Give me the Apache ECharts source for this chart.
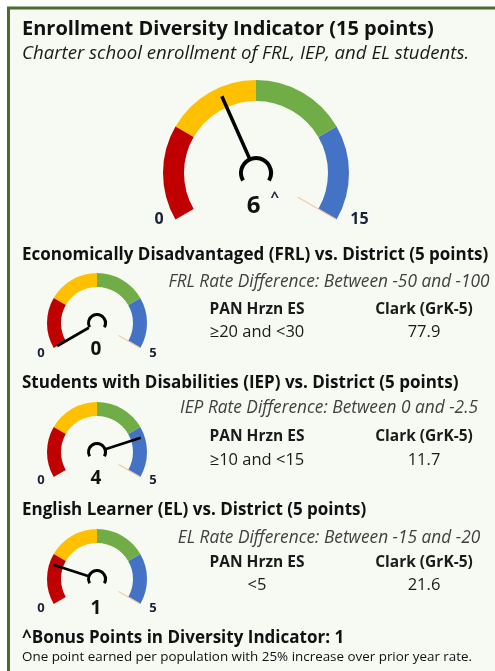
<!DOCTYPE html>
<html>
<head>
<meta charset="utf-8">
<script src="https://cdn.jsdelivr.net/npm/echarts@6/dist/echarts.min.js"></script>
<style>
html,body{margin:0;padding:0;background:#ffffff;}
#chart{width:495px;height:671px;}
</style>
</head>
<body>
<div id="chart"></div>
<script>
// ---- data ----
const mainTitle = 'Enrollment Diversity Indicator (15 points)';
const mainSubtitle = 'Charter school enrollment of FRL, IEP, and EL students.';
const gaugeMax = [15, 5, 5, 5];
const gaugeValues = [6, 0, 4, 1];
const bonusMark = '^';
const bandStops = [0.25, 0.5, 0.75, 1];
const bandColors = ['#c00000', '#ffc000', '#70ad47', '#4472c4'];
const sectionTitles = [
  'Economically Disadvantaged (FRL) vs. District (5 points)',
  'Students with Disabilities (IEP) vs. District (5 points)',
  'English Learner (EL) vs. District (5 points)'
];
const rateDiffTexts = [
  'FRL Rate Difference: Between -50 and -100',
  'IEP Rate Difference: Between 0 and -2.5',
  'EL Rate Difference: Between -15 and -20'
];
const schoolNames = ['PAN Hrzn ES', 'Clark (GrK-5)'];
const schoolValues = [
  ['\u226520 and <30', '77.9'],
  ['\u226510 and <15', '11.7'],
  ['<5', '21.6']
];
const bonusText = '^Bonus Points in Diversity Indicator: 1';
const footnote = 'One point earned per population with 25% increase over prior year rate.';

// ---- layout (style only) ----
const FONT = '"Open Sans", Lato, sans-serif';
const gaugeLayout = [
  { cx: 256, cy: 173, r: 93, band: 21, needleLen: 84, needleW: 3.5, hubR: 17, hubW: 4, labelSize: 16, labelDist: -57, padMin: 11, padUp: 37, detailSize: 24, detailOff: 33, peachIn: 48 },
  { cx: 97, cy: 323, r: 50, band: 14, needleLen: 46, needleW: 2.6, hubR: 10, hubW: 3, labelSize: 13, labelDist: -39, padMin: 0, padUp: 8, detailSize: 19, detailOff: 27, peachIn: 25 },
  { cx: 97, cy: 452, r: 50, band: 14, needleLen: 46, needleW: 2.6, hubR: 10, hubW: 3, labelSize: 13, labelDist: -39, padMin: 0, padUp: 12, detailSize: 19, detailOff: 27, peachIn: 25 },
  { cx: 97, cy: 579, r: 50, band: 14, needleLen: 46, needleW: 2.6, hubR: 10, hubW: 3, labelSize: 13, labelDist: -39, padMin: 0, padUp: 10, detailSize: 19, detailOff: 30, peachIn: 25 }
];

function gapPath(len, gapFromCenter) {
  const vis = len - gapFromCenter;
  return 'path://M0,0L10,0L10,' + vis + 'L0,' + vis + 'ZM0,' + len + 'L10,' + len;
}

const series = [];
gaugeValues.forEach(function (val, i) {
  const L = gaugeLayout[i];
  const isMain = i === 0;
  const common = {
    type: 'gauge',
    center: [L.cx, L.cy],
    startAngle: 210,
    endAngle: -30,
    min: 0,
    max: gaugeMax[i],
    splitNumber: 1,
    axisTick: { show: false },
    splitLine: { show: false },
    anchor: { show: false },
    title: { show: false },
    animation: false
  };
  const labelBase = { fontSize: L.labelSize, fontWeight: 'bold', fontFamily: FONT, color: '#1b2036' };
  // colored band with tick labels
  series.push(Object.assign({}, common, {
    radius: L.r,
    z: 2,
    axisLine: { lineStyle: { width: L.band, color: bandStops.map(function (s, k) { return [s, bandColors[k]]; }) } },
    axisLabel: {
      show: true,
      distance: L.labelDist,
      formatter: function (v) { return (v === 0 ? '{lo|' : '{hi|') + v + '}'; },
      rich: {
        lo: Object.assign({ padding: [0, 0, L.padUp, L.padMin] }, labelBase),
        hi: Object.assign({ padding: [0, 0, L.padUp, 0] }, labelBase)
      }
    },
    pointer: { show: false },
    detail: { show: false },
    data: [{ value: val }]
  }));
  // pale marker line at max end
  series.push(Object.assign({}, common, {
    radius: L.r,
    z: 3,
    axisLine: { show: false },
    axisLabel: { show: false },
    pointer: { show: true, icon: gapPath(L.r, L.peachIn), length: L.r, width: 1.3 },
    itemStyle: { color: '#f5c9a8' },
    detail: { show: false },
    data: [{ value: gaugeMax[i] }]
  }));
  // hub
  series.push(Object.assign({}, common, {
    radius: L.hubR,
    z: 4,
    axisLine: { lineStyle: { width: L.hubW, color: [[1, '#000000']] } },
    axisLabel: { show: false },
    pointer: { show: false },
    detail: { show: false },
    data: [{ value: val }]
  }));
  // needle + value
  series.push(Object.assign({}, common, {
    radius: L.r,
    z: 5,
    axisLine: { show: false },
    axisLabel: { show: false },
    pointer: { show: true, icon: gapPath(L.needleLen, L.hubR - 0.5), length: L.needleLen, width: L.needleW },
    itemStyle: { color: '#000000' },
    detail: {
      show: true,
      offsetCenter: isMain ? [7, L.detailOff] : [-1, L.detailOff],
      formatter: isMain ? function (v) { return '{v|' + v + '}{s|}{c|' + bonusMark + '}'; } : function (v) { return '{v|' + v + '}'; },
      rich: {
        v: { fontSize: L.detailSize, fontWeight: 'bold', fontFamily: FONT, color: '#111111' },
        s: { width: 10 },
        c: { fontSize: 15, fontWeight: 'bold', fontFamily: FONT, color: '#1b2036', padding: [0, 0, 16, 0] }
      }
    },
    data: [{ value: val }]
  }));
});

// ---- texts ----
const gfx = [];
gfx.push({ type: 'rect', shape: { x: 8.5, y: 8, width: 500, height: 680 }, style: { fill: '#f6faf3', stroke: '#4d6b2e', lineWidth: 3 }, z: -10 });
function txt(s, x, y, font, color, align) {
  gfx.push({ type: 'text', x: x, y: y, style: { text: s, font: font, fill: color, textAlign: align || 'left', textVerticalAlign: 'middle' }, z: 10 });
}
txt(mainTitle, 22, 29, 'bold 20px ' + FONT, '#111111');
txt(mainSubtitle, 22, 54, 'italic 18.6px ' + FONT, '#1a1a1a');
const secY = [255, 383, 510];
const rateY = [282, 408, 538];
const nameY = [310, 437, 563];
const valY = [332, 460, 585];
sectionTitles.forEach(function (t, k) {
  txt(t, 22, secY[k], 'bold 17px ' + FONT, '#111111');
  txt(rateDiffTexts[k], 329, rateY[k], 'italic 17.3px ' + FONT, '#404040', 'center');
  txt(schoolNames[0], 257, nameY[k], 'bold 15.5px ' + FONT, '#1a1a1a', 'center');
  txt(schoolNames[1], 424, nameY[k], 'bold 15.5px ' + FONT, '#1a1a1a', 'center');
  txt(schoolValues[k][0], 257, valY[k], '16.5px ' + FONT, '#1a1a1a', 'center');
  txt(schoolValues[k][1], 424, valY[k], '16.5px ' + FONT, '#1a1a1a', 'center');
});
txt(bonusText, 22, 638, 'bold 17px ' + FONT, '#111111');
txt(footnote, 22, 657, '13.4px ' + FONT, '#111111');

const chart = echarts.init(document.getElementById('chart'), null, { renderer: 'canvas' });
chart.setOption({
  backgroundColor: '#ffffff',
  animation: false,
  graphic: gfx,
  series: series
});
</script>
</body>
</html>
